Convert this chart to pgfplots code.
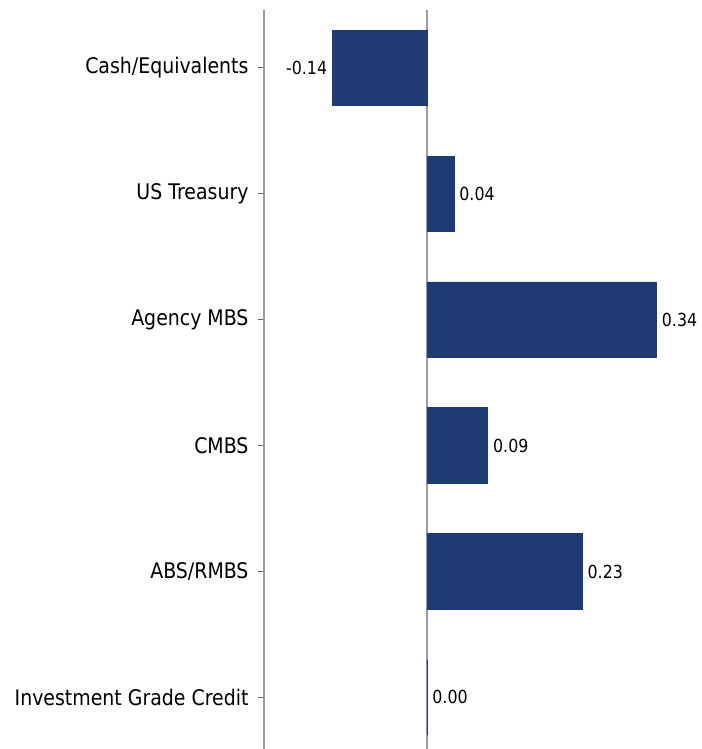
\documentclass[border=0pt]{standalone}
\usepackage{fontspec}
\setmainfont{DejaVu Sans}[FakeStretch=0.88]
\usepackage{pgfplots}
\pgfplotsset{compat=1.18}
\definecolor{barblue}{RGB}{30,58,114}
\definecolor{axgray}{RGB}{155,155,165}
\begin{document}
\begin{tikzpicture}[x=1bp,y=1bp]
\path[use as bounding box] (0,0) rectangle (702,749);
\begin{axis}[at={(264bp,0bp)}, anchor=south west, scale only axis,
  width=438bp, height=739bp,
  xbar, bar width=0.6,
  xmin=-0.2415, xmax=0.4074, ymin=-0.41, ymax=5.46,
  hide x axis, axis y line*=left,
  axis line style={axgray, line width=1.3bp},
  ytick={0,1,2,3,4,5},
  yticklabels={Investment Grade Credit, ABS/RMBS, CMBS, Agency MBS, US Treasury, Cash/Equivalents},
  y tick label style={font=\fontsize{21.5bp}{24bp}\selectfont, text=black, xshift=-6bp},
  major tick length=6bp, tick align=outside,
  y tick style={black!60, line width=1bp},
  nodes near coords, point meta=x,
  nodes near coords style={font=\fontsize{18bp}{21bp}\selectfont, text=black, inner xsep=5bp,
    /pgf/number format/.cd, fixed, fixed zerofill, precision=2, assume math mode=true},
]
\draw[axgray, line width=2bp] (axis cs:0,-0.41) -- (axis cs:0,5.46);
\addplot[fill=barblue, draw=barblue, line width=0.8bp] coordinates {
  (0.00,0) (0.23,1) (0.09,2) (0.34,3) (0.04,4) (-0.14,5)
};
\end{axis}
\end{tikzpicture}
\end{document}
